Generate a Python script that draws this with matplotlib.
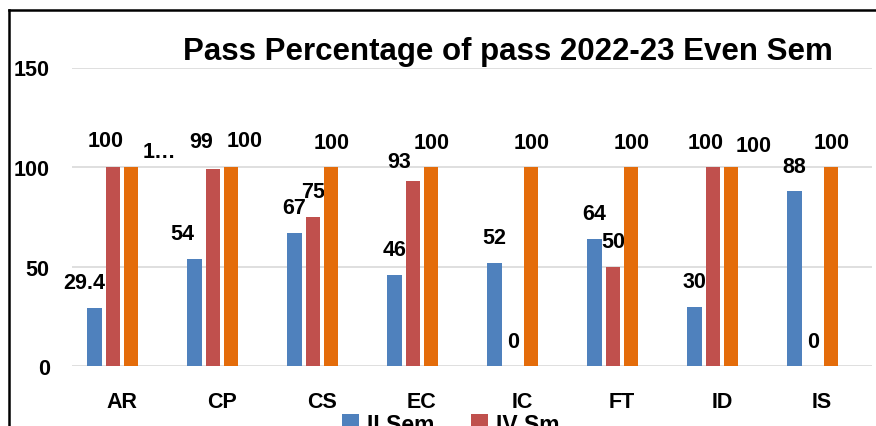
import matplotlib
matplotlib.use("Agg")
import matplotlib.pyplot as plt
from matplotlib.lines import Line2D
import numpy as np

plt.rcParams['font.family'] = ['Liberation Sans', 'DejaVu Sans']
plt.rcParams['font.weight'] = 'bold'

# ========== 数据 ==========
categories = ['AR', 'CP', 'CS', 'EC', 'IC', 'FT', 'ID', 'IS']
series_names = ['II Sem', 'IV Sm', 'VI Sem', 'VIII Sem']
ii_sem = [29.4, 54, 67, 46, 52, 64, 30, 88]
iv_sem = [100, 99, 75, 93, 0, 50, 100, 0]
vi_sem = [100, 100, 100, 100, 100, 100, 100, 100]
viii_sem = [np.nan] * 8
title = 'Pass Percentage of pass 2022-23 Even Sem'
y_ticks = [0, 50, 100, 150]

colors = ['#4F81BD', '#C0504D', '#E46C0A', '#9BBB59']

# labels moved by hand in the original (pixel offsets): (series, category) -> (dx, dy)
label_shift = {
    (0, 0): (-10, 0), (1, 0): (-7, -2), (2, 0): (28, 9),
    (0, 1): (-12, 0), (1, 1): (-12, -3), (2, 1): (13, -2),
    (1, 3): (-14, 5),
    (1, 6): (-7, 0), (2, 6): (22, 3),
}
label_text = {(2, 0): '1…'}

W, H = 876, 427
fig = plt.figure(figsize=(W / 100, H / 100), dpi=100)
ax = fig.add_axes([72 / W, (H - 367.3) / H, 800 / W, (367.3 - 68.5) / H])

x = np.arange(len(categories))
bw = 0.143
step = 0.183
all_series = [ii_sem, iv_sem, vi_sem, viii_sem]
handles = []
for i, vals in enumerate(all_series):
    pos = x + (i - 1.5) * step
    b = ax.bar(pos, vals, width=bw, color=colors[i], zorder=3, label=series_names[i])
    handles.append(b)
    for j, v in enumerate(vals):
        if np.isnan(v):
            continue
        dx, dy = label_shift.get((i, j), (0, 0))
        txt = label_text.get((i, j), f'{v:g}')
        ax.annotate(txt, (pos[j], v), xytext=(dx, 25 - dy), textcoords='offset pixels',
                    ha='center', va='center', fontsize=15.5, fontweight='bold',
                    color='black', annotation_clip=False)

ax.set_xlim(-0.5, len(categories) - 0.5)
ax.set_ylim(0, 150)
ax.set_yticks(y_ticks)
ax.set_xticks(x)
ax.set_xticklabels(categories)
ax.grid(axis='y', color='#D9D9D9', linewidth=1.2, zorder=0)
for s in ax.spines.values():
    s.set_visible(False)
ax.tick_params(axis='both', length=0, labelsize=15.5)
ax.tick_params(axis='y', pad=16)
ax.tick_params(axis='x', pad=18)
for lab in ax.get_xticklabels() + ax.get_yticklabels():
    lab.set_fontweight('bold')

fig.text(508 / W, 1 - 60 / H, title, ha='center', va='baseline',
         fontsize=22.5, fontweight='bold')

# legend (cut off at the bottom like the reference), filled row by row
order = [0, 2, 1, 3]
fig.legend(handles=[handles[k] for k in order], labels=[series_names[k] for k in order],
           ncol=2, frameon=False,
           loc='upper left', bbox_to_anchor=(321 / W, 1 - 393 / H),
           fontsize=16.5, handlelength=0.75, handleheight=0.75, columnspacing=1.2,
           handletextpad=0.35)

# chart frame
fig.add_artist(Line2D([9 / W, 1], [1 - 11 / H, 1 - 11 / H], color='black', lw=1.8,
                      transform=fig.transFigure))
fig.add_artist(Line2D([9 / W, 9 / W], [0, 1 - 11 / H], color='black', lw=1.8,
                      transform=fig.transFigure))

fig.savefig('out.png', dpi=100)
